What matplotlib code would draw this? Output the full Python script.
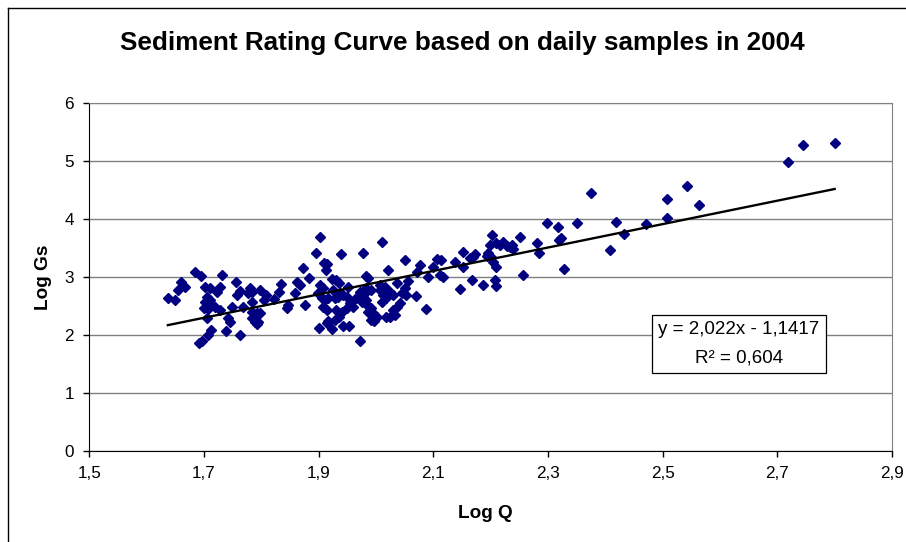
import matplotlib.pyplot as plt
from matplotlib.lines import Line2D
from matplotlib.ticker import FuncFormatter

# daily samples, 2004: log discharge vs log sediment load
log_q = [
    1.637, 1.649, 1.654, 1.660, 1.667, 1.684, 1.695, 1.702, 1.711, 1.705,
    1.711, 1.702, 1.713, 1.707, 1.700, 1.722, 1.728, 1.719, 1.728, 1.705,
    1.712, 1.707, 1.691, 1.697, 1.731,
    1.755, 1.862, 1.867, 1.834, 1.758, 1.763, 1.780, 1.783, 1.777, 1.798,
    1.831, 1.858, 1.809, 1.805, 1.822, 1.783, 1.847, 1.845, 1.748, 1.768,
    1.783, 1.792, 1.798, 1.742, 1.745, 1.783, 1.789, 1.795, 1.792, 1.738,
    1.762,
    1.903, 2.010, 1.895, 1.939, 1.977, 1.909, 1.914, 1.912, 1.872, 2.050,
    2.106, 2.114, 2.077, 2.072, 2.099, 2.021, 1.884, 1.923, 1.931, 1.936,
    1.982, 1.986, 2.091, 2.111, 2.117, 2.056, 2.036, 2.007, 2.016, 1.902,
    1.907, 1.952, 1.983, 1.992, 1.981, 1.978, 2.050, 2.045, 2.053, 1.925,
    1.937, 1.943, 1.934, 1.928, 1.949, 2.007, 2.013, 2.018, 2.010, 2.024,
    2.030, 1.899, 1.905, 1.911, 1.917, 1.972, 1.966, 1.975, 1.983, 2.069,
    1.876, 2.042, 2.036, 2.030, 2.033, 2.024, 2.018, 1.955, 1.960, 1.949,
    1.984, 1.992, 1.986, 1.995, 2.001, 1.992, 1.997, 1.908, 1.914, 1.931,
    1.940, 1.936, 1.928, 2.087, 1.917, 1.914, 1.901, 1.923, 1.943, 1.953,
    1.972,
    2.375, 2.298, 2.351, 2.418, 2.318, 2.203, 2.251, 2.322, 2.319, 2.199,
    2.210, 2.221, 2.216, 2.228, 2.237, 2.239, 2.233, 2.281, 2.285, 2.408,
    2.151, 2.170, 2.164, 2.172, 2.196, 2.200, 2.193, 2.138, 2.204, 2.209,
    2.151, 2.328, 2.257, 2.167, 2.207, 2.210, 2.187, 2.146,
    2.800, 2.745, 2.719, 2.542, 2.508, 2.563, 2.507, 2.471, 2.432,
]
log_gs = [
    2.642, 2.603, 2.776, 2.919, 2.833, 3.081, 3.022, 2.833, 2.805, 2.660,
    2.603, 2.574, 2.517, 2.447, 2.459, 2.746, 2.833, 2.487, 2.431, 2.297,
    2.085, 2.000, 1.860, 1.890, 3.034,
    2.919, 2.909, 2.862, 2.874, 2.689, 2.763, 2.805, 2.746, 2.718, 2.776,
    2.746, 2.718, 2.689, 2.603, 2.615, 2.574, 2.517, 2.459, 2.487, 2.477,
    2.401, 2.373, 2.373, 2.287, 2.228, 2.287, 2.228, 2.228, 2.188, 2.067,
    1.998,
    3.696, 3.600, 3.409, 3.392, 3.409, 3.247, 3.219, 3.121, 3.150, 3.294,
    3.306, 3.294, 3.207, 3.092, 3.178, 3.121, 2.977, 2.960, 2.948, 2.891,
    3.017, 2.977, 3.005, 3.034, 3.005, 2.931, 2.891, 2.862, 2.833, 2.862,
    2.805, 2.833, 2.805, 2.776, 2.718, 2.660, 2.805, 2.729, 2.689, 2.776,
    2.718, 2.689, 2.660, 2.632, 2.660, 2.776, 2.689, 2.632, 2.574, 2.746,
    2.689, 2.718, 2.632, 2.603, 2.632, 2.746, 2.632, 2.574, 2.603, 2.672,
    2.517, 2.546, 2.487, 2.431, 2.344, 2.315, 2.304, 2.546, 2.487, 2.459,
    2.517, 2.459, 2.401, 2.373, 2.315, 2.258, 2.246, 2.487, 2.431, 2.431,
    2.401, 2.315, 2.258, 2.442, 2.245, 2.211, 2.114, 2.097, 2.154, 2.154,
    1.900,
    4.456, 3.938, 3.938, 3.955, 3.858, 3.725, 3.696, 3.679, 3.639, 3.553,
    3.592, 3.610, 3.553, 3.536, 3.553, 3.478, 3.513, 3.582, 3.409, 3.467,
    3.437, 3.351, 3.323, 3.392, 3.409, 3.351, 3.363, 3.264, 3.264, 3.168,
    3.168, 3.133, 3.034, 2.948, 2.948, 2.845, 2.862, 2.793,
    5.309, 5.280, 4.991, 4.572, 4.342, 4.243, 4.014, 3.910, 3.743,
]

# linear trend reported on the chart
slope = 2.022
intercept = -1.1417
r_squared = 0.604

x_ticks = [1.5, 1.7, 1.9, 2.1, 2.3, 2.5, 2.7, 2.9]
y_ticks = [0, 1, 2, 3, 4, 5, 6]


def comma(v, pos=None):
    return f"{v:g}".replace('.', ',')


plt.rcParams['font.family'] = ['Liberation Sans', 'DejaVu Sans']

fig = plt.figure(figsize=(9.06, 5.42), dpi=100)
ax = fig.add_axes([0.0986, 0.1685, 0.8859, 0.6409])

############### points and trend line ###############
ax.plot(log_q, log_gs, linestyle='none', marker='D', ms=5,
        color='#000080', mec='#000080', zorder=3)
x_fit = [min(log_q), max(log_q)]
ax.plot(x_fit, [slope * x + intercept for x in x_fit],
        color='black', lw=1.7, zorder=4)

eq = f"y = {slope:.3f}x - {abs(intercept):.4f}".replace('.', ',')
r2 = f"R\u00b2 = {r_squared:.3f}".replace('.', ',')
ax.text(2.633, 1.845, eq + "\n" + r2, ha='center', va='center',
        multialignment='center', fontsize=13.5, linespacing=1.85, zorder=5,
        bbox=dict(boxstyle='square,pad=0.33', fc='white', ec='black', lw=0.9))

############### axes ###############
ax.set_xlim(1.5, 2.9)
ax.set_ylim(0, 6)
ax.set_xticks(x_ticks)
ax.set_yticks(y_ticks)
ax.xaxis.set_major_formatter(FuncFormatter(comma))
ax.yaxis.set_major_formatter(FuncFormatter(comma))
ax.tick_params(direction='out', length=4, width=1, labelsize=12.3, pad=7)
ax.grid(axis='y', color='#808080', lw=1)
ax.set_axisbelow(True)
for side in ['top', 'right']:
    ax.spines[side].set_color('#808080')
for side in ['left', 'bottom']:
    ax.spines[side].set_color('black')

############### labels ###############
fig.text(462 / 906, 1 - 43 / 542, 'Sediment Rating Curve based on daily samples in 2004',
         ha='center', va='center', fontsize=18.8, fontweight='bold')
fig.text(485 / 906, 1 - 514 / 542, 'Log Q', ha='center', va='center',
         fontsize=13.7, fontweight='bold')
fig.text(44 / 906, 1 - 277 / 542, 'Log Gs', ha='center', va='center',
         fontsize=13.7, fontweight='bold', rotation=90)

# chart frame (left and top edges)
fig.add_artist(Line2D([8 / 906, 8 / 906], [0, 1 - 8 / 542], color='black', lw=1))
fig.add_artist(Line2D([8 / 906, 1], [1 - 8 / 542, 1 - 8 / 542], color='black', lw=1))

fig.savefig('out.png', dpi=100)
